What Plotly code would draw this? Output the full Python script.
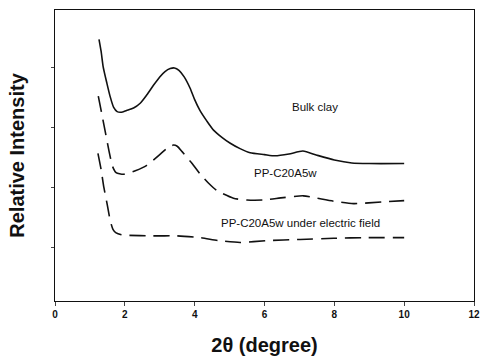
import plotly.graph_objects as go

bulk_x = [1.26, 1.32, 1.38, 1.48, 1.58, 1.68, 1.78, 1.9, 2.05, 2.25, 2.44, 2.63, 2.82, 3.0, 3.15, 3.3, 3.42, 3.55, 3.7, 3.87, 4.0, 4.15, 4.35, 4.54, 4.78, 5.02, 5.3, 5.59, 6.0, 6.3, 6.7, 7.1, 7.5, 8.0, 8.5, 9.0, 10.0]
bulk_y = [4.48, 4.28, 4.02, 3.76, 3.52, 3.34, 3.27, 3.26, 3.29, 3.33, 3.41, 3.55, 3.71, 3.85, 3.94, 3.99, 4.0, 3.96, 3.85, 3.66, 3.47, 3.29, 3.11, 2.96, 2.84, 2.74, 2.65, 2.58, 2.55, 2.53, 2.56, 2.61, 2.54, 2.46, 2.41, 2.40, 2.40]

pp_x = [1.24, 1.35, 1.45, 1.55, 1.65, 1.75, 1.96, 2.3, 2.63, 3.0, 3.2, 3.39, 3.5, 3.64, 3.9, 4.15, 4.4, 4.63, 5.11, 5.5, 5.97, 6.54, 7.11, 7.5, 7.98, 8.55, 9.41, 10.0]
pp_y = [3.53, 3.20, 2.90, 2.60, 2.35, 2.25, 2.22, 2.28, 2.37, 2.55, 2.65, 2.71, 2.69, 2.60, 2.42, 2.23, 2.07, 1.95, 1.82, 1.79, 1.79, 1.83, 1.86, 1.82, 1.77, 1.73, 1.76, 1.78]

ef_x = [1.23, 1.32, 1.4, 1.5, 1.58, 1.66, 1.75, 1.9, 2.05, 2.8, 3.48, 4.15, 4.7, 5.3, 6.06, 7.02, 7.98, 8.93, 10.0]
ef_y = [2.57, 2.30, 2.00, 1.70, 1.45, 1.30, 1.24, 1.21, 1.20, 1.19, 1.19, 1.16, 1.11, 1.08, 1.11, 1.13, 1.15, 1.16, 1.16]

labels = ["Bulk clay", "PP-C20A5w", "PP-C20A5w under electric field"]
label_x = [7.45, 6.59, 7.02]
label_y = [3.35, 2.24, 1.41]

x_ticks = [0, 2, 4, 6, 8, 10, 12]
y_ticks = [1, 2, 3, 4]

FONT = "Arial, Liberation Sans, Helvetica"

fig = go.Figure()
fig.add_trace(go.Scatter(x=bulk_x, y=bulk_y, mode="lines",
                         line=dict(color="#111", width=1.6, shape="spline", smoothing=0.6)))
fig.add_trace(go.Scatter(x=pp_x, y=pp_y, mode="lines",
                         line=dict(color="#111", width=1.6, shape="spline", smoothing=0.6, dash="16px,8px")))
fig.add_trace(go.Scatter(x=ef_x, y=ef_y, mode="lines",
                         line=dict(color="#111", width=1.6, shape="spline", smoothing=0.6, dash="16px,8px")))

for t, lx, ly in zip(labels, label_x, label_y):
    fig.add_annotation(x=lx, y=ly, text=t, showarrow=False,
                       font=dict(family=FONT, size=11.5, color="#111"))

fig.update_layout(
    width=481, height=361,
    margin=dict(l=55, r=7, t=10, b=60, autoexpand=False),
    paper_bgcolor="white", plot_bgcolor="white",
    showlegend=False,
    xaxis=dict(range=[0, 12], tickvals=x_ticks, ticks="outside", ticklen=4,
               showline=True, linecolor="#111", linewidth=1.2, mirror=True,
               showgrid=False, zeroline=False, automargin=False,
               tickfont=dict(family=FONT, size=10, color="#111", weight="bold"),
               title=dict(text="2θ (degree)", standoff=18,
                          font=dict(family=FONT, size=20, color="#111", weight="bold"))),
    yaxis=dict(range=[0.1, 4.97], tickvals=y_ticks, showticklabels=False, ticks="outside", ticklen=3,
               showline=True, linecolor="#111", linewidth=1.2, mirror=True,
               showgrid=False, zeroline=False, automargin=False,
               title=dict(text="Relative Intensity", standoff=20,
                          font=dict(family=FONT, size=20, color="#111", weight="bold"))),
)

fig.write_html("out.html", config={"displayModeBar": False},
               post_script="document.body.style.margin='0';")
